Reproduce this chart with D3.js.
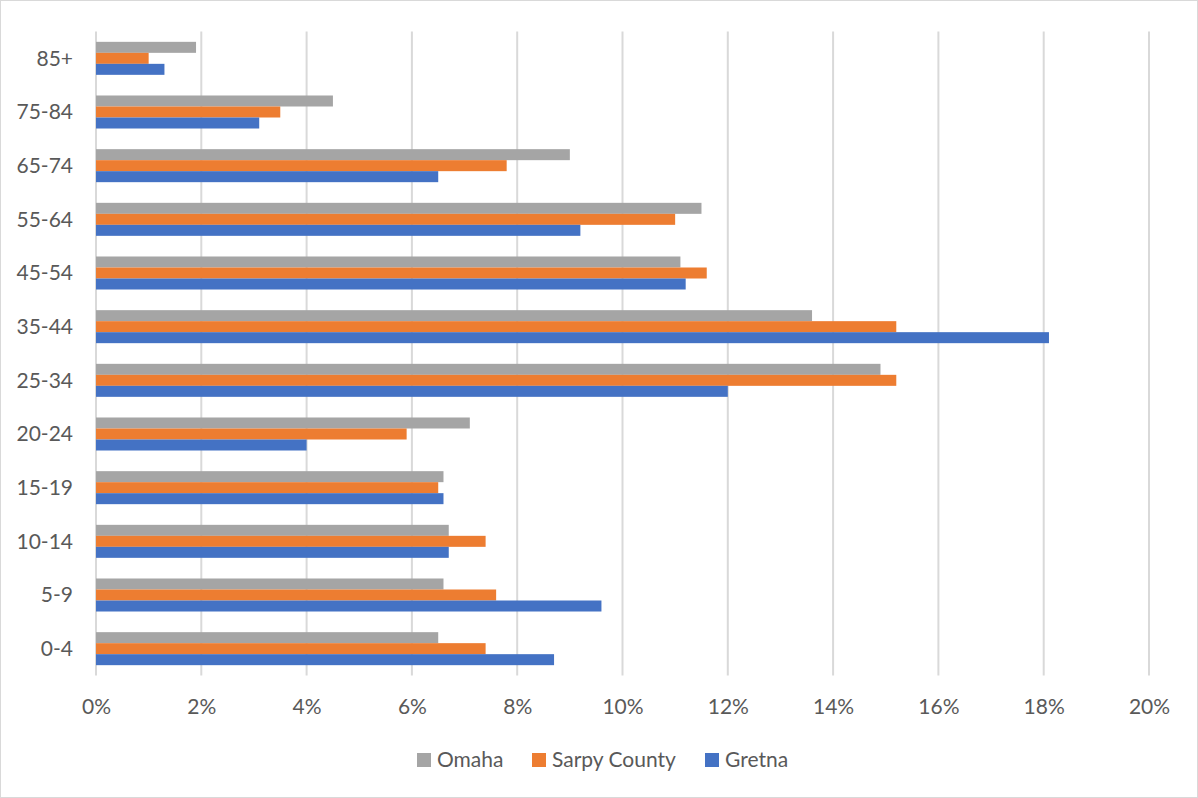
<!DOCTYPE html>
<html><head><meta charset="utf-8">
<script src="https://cdn.jsdelivr.net/npm/d3@7"></script>
<style>
html,body{margin:0;padding:0;background:#fff;}
svg text{font-family:Lato,"Open Sans",sans-serif;fill:#595959;}
</style></head>
<body><svg id="c" width="1198" height="798"></svg>
<script>
const categories = ["85+","75-84","65-74","55-64","45-54","35-44","25-34","20-24","15-19","10-14","5-9","0-4"];
const omaha  = [1.9, 4.5, 9.0, 11.5, 11.1, 13.6, 14.9, 7.1, 6.6, 6.7, 6.6, 6.5];
const sarpy  = [1.0, 3.5, 7.8, 11.0, 11.6, 15.2, 15.2, 5.9, 6.5, 7.4, 7.6, 7.4];
const gretna = [1.3, 3.1, 6.5, 9.2, 11.2, 18.1, 12.0, 4.0, 6.6, 6.7, 9.6, 8.7];
const seriesNames = ["Omaha","Sarpy County","Gretna"];
const seriesColors = ["#A5A5A5","#ED7D31","#4472C4"];
const xTicks = [0,2,4,6,8,10,12,14,16,18,20];

(function(){
const series = [omaha, sarpy, gretna];
const svg = d3.select("#c");
svg.append("rect").attr("x",0.5).attr("y",0.5).attr("width",1197).attr("height",797)
  .attr("fill","#fff").attr("stroke","#D9D9D9");

const pLeft = 96, pRight = 1149, pTop = 31.5, pBottom = 675.5;
const x = d3.scaleLinear().domain([0,20]).range([pLeft,pRight]);
const y = d3.scaleBand().domain(categories).range([pTop,pBottom]).paddingInner(0.385).paddingOuter(0.1925);
const yInner = d3.scaleBand().domain(seriesNames).range([0,y.bandwidth()]);

svg.append("g").selectAll("line").data(xTicks).join("line")
  .attr("x1",d=>x(d)).attr("x2",d=>x(d)).attr("y1",pTop).attr("y2",pBottom)
  .attr("stroke","#D9D9D9").attr("stroke-width",2);

const g = svg.append("g");
categories.forEach((c,i)=>{
  seriesNames.forEach((s,j)=>{
    g.append("rect")
      .attr("x",x(0)).attr("y",y(c)+yInner(s))
      .attr("width",x(series[j][i])-x(0)).attr("height",yInner.bandwidth())
      .attr("fill",seriesColors[j]);
  });
});

const xAxis = d3.axisBottom(x).tickValues(xTicks).tickFormat(d=>d+"%").tickSize(0).tickPadding(0);
const xa = svg.append("g").attr("transform",`translate(0,${pBottom})`).call(xAxis);
xa.select(".domain").remove();
xa.selectAll("text").attr("font-size",21).attr("dy",null).attr("y",38).style("font-family","Lato").attr("fill","#595959");

const yAxis = d3.axisLeft(y).tickSize(0).tickPadding(0);
const ya = svg.append("g").attr("transform",`translate(73,0)`).call(yAxis);
ya.select(".domain").remove();
ya.selectAll("text").attr("font-size",21).attr("dy","0.35em").style("font-family","Lato").attr("fill","#595959");

const legendX = [417, 532, 705];
const lg = svg.append("g");
seriesNames.forEach((s,j)=>{
  lg.append("rect").attr("x",legendX[j]).attr("y",753).attr("width",14).attr("height",14).attr("fill",seriesColors[j]);
  lg.append("text").attr("x",legendX[j]+20).attr("y",767).attr("font-size",21).text(s);
});
})();
</script></body></html>
